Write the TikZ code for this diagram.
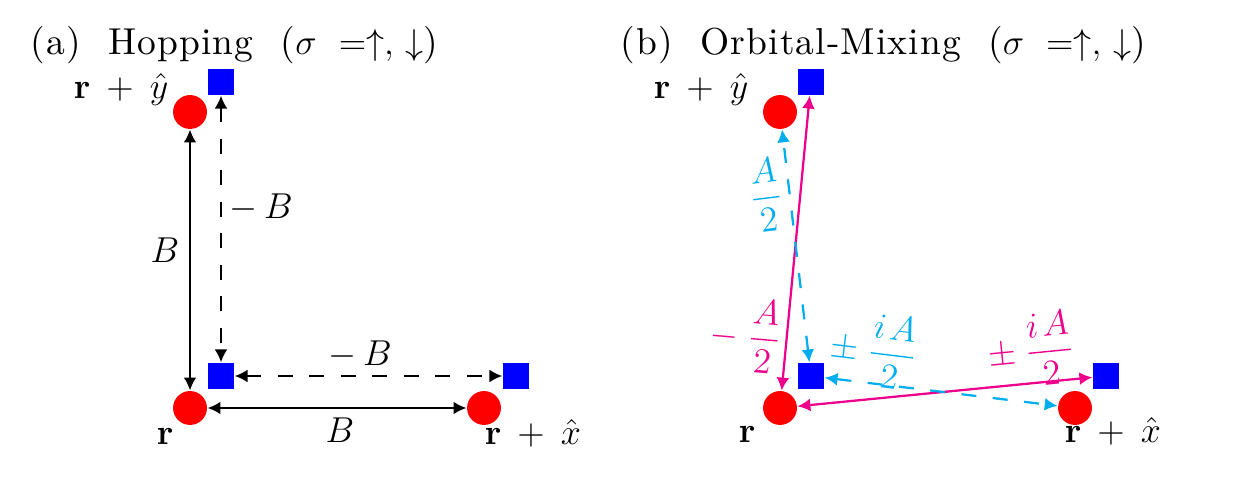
\documentclass[tikz,border=0pt]{standalone}
\usepackage{amsmath, amssymb}
\usepackage[no-math]{fontspec}
\setmainfont{lmroman10-regular.otf}[LetterSpace=3,WordSpace=2.0,BoldFont=lmroman10-bold.otf]
\usepackage{tikz}
\usetikzlibrary{arrows.meta}
\definecolor{mixpink}{RGB}{236,0,140}
\definecolor{mixcyan}{RGB}{0,174,239}
\medmuskip=8mu plus 2mu minus 2mu
\thickmuskip=11mu plus 3mu
\thinmuskip=6mu
\newcommand{\mth}[1]{{\fontsize{13}{15}\selectfont$#1$}}

\begin{document}
\begin{tikzpicture}[x=0.3333pt,y=0.3333pt,yscale=-1,xscale=1,
    site/.style={circle,fill=red,inner sep=0pt,minimum size=11.3pt},
    orb/.style={rectangle,fill=blue,inner sep=0pt,minimum size=8.7pt},
    hop/.style={{Latex[length=4.3pt,width=4.3pt]}-{Latex[length=4.3pt,width=4.3pt]},line width=0.75pt},
    hopdash/.style={hop,dash pattern=on 5pt off 5.5pt},
    lbl/.style={inner sep=0.75pt,font=\fontsize{12.5}{15}\selectfont},
    coef/.style={inner sep=0.75pt,font=\fontsize{11.5}{14}\selectfont}]
    \useasboundingbox (0,0) rectangle (1242,479);

    % panel (a): sites and orbitals
    \node[site] (ra) at (190,408) {};
    \node[site] (rxa) at (484,408) {};
    \node[site] (rya) at (190,112) {};
    \node[orb] (sa) at (221,376) {};
    \node[orb] (sxa) at (516,376) {};
    \node[orb] (sya) at (221,82) {};

    % panel (b): sites and orbitals
    \node[site] (rb) at (780,408) {};
    \node[site] (rxb) at (1075,408) {};
    \node[site] (ryb) at (780,112) {};
    \node[orb] (sb) at (811,376) {};
    \node[orb] (sxb) at (1106,376) {};
    \node[orb] (syb) at (811,82) {};

    % Hopping
    \draw[hop] (rya) -- (ra);
    \draw[hop] (ra) -- (rxa);
    \draw[hopdash] (sya) -- (sa);
    \draw[hopdash] (sa) -- (sxa);

    % Orbital mixing
    \draw[hop,mixpink] (rb) -- (syb);
    \draw[hop,mixpink] (rb) -- (sxb);
    \draw[hopdash,mixcyan] (sb) -- (ryb);
    \draw[hopdash,mixcyan] (sb) -- (rxb);

    % Text Node
    \node[lbl,anchor=base west] (tta) at (28,55) {(a) Hopping (\mth{\sigma =\uparrow,\downarrow})};
    % Text Node
    \node[lbl,anchor=base west] (ttb) at (618,55) {(b) Orbital-Mixing (\mth{\sigma =\uparrow,\downarrow})};

    % Text Node
    \node[coef,anchor=base west] (la) at (154,445) {$\mathbf{r}$};
    \node[coef,anchor=base west] (lxa) at (482,445) {$\mathbf{r}+\hat{x}$};
    \node[coef,anchor=base west] (lya) at (71,99) {$\mathbf{r}+\hat{y}$};
    \node[coef,anchor=base west] (lb) at (736,443) {$\mathbf{r}$};
    \node[coef,anchor=base west] (lxb) at (1062,443) {$\mathbf{r}+\hat{x}$};
    \node[coef,anchor=base west] (lyb) at (651,99) {$\mathbf{r}+\hat{y}$};

    % Text Node
    \node[coef] (ba) at (165,250) {$B$};
    \node[coef] (bb) at (261,208) {$-\mskip3.5mu B$};
    \node[coef] (bc) at (360,355) {$-\mskip3.5mu B$};
    \node[coef] (bd) at (340,430) {$B$};

    % Text Node
    \node[coef,text=mixpink,rotate=-5] (aa) at (746,335) {$-\mskip4.5mu\dfrac{A}{2}$};
    \node[coef,text=mixcyan,rotate=7] (ab) at (766,195) {$\dfrac{A}{2}$};
    \node[coef,text=mixcyan,rotate=-7] (ac) at (874,350) {$\pm\mskip4.5mu\dfrac{i\mskip2mu A}{2}$};
    \node[coef,text=mixpink,rotate=5.6] (ad) at (1031,350) {$\pm\mskip4.5mu\dfrac{i\mskip2mu A}{2}$};
\end{tikzpicture}
\end{document}
